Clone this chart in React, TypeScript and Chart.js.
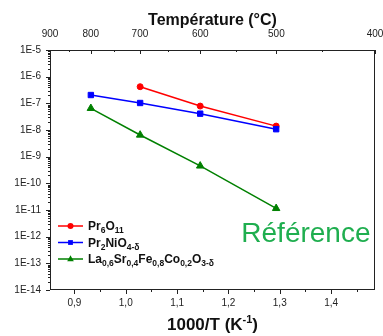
import React, { useEffect, useRef } from 'react';
import { Chart, registerables } from 'chart.js';

Chart.register(...registerables);

// ---- data ----
const INV_T = [0.932, 1.028, 1.145, 1.293]; // 1000/T (K^-1) of the measurements
const PR6O11 = [null, 4.2e-7, 7.9e-8, 1.4e-8];
const PR2NIO4 = [2.05e-7, 1.03e-7, 4.1e-8, 1.07e-8];
const LSFC = [6.5e-8, 6.5e-9, 4.5e-10, 1.15e-11];

const X_TICKS = [0.9, 1.0, 1.1, 1.2, 1.3, 1.4];
const X_MINOR = [0.95, 1.05, 1.15, 1.25, 1.35, 1.45];
const Y_EXPONENTS = [-14, -13, -12, -11, -10, -9, -8, -7, -6, -5];
const TEMP_TICKS = [900, 800, 700, 600, 500, 400];
const TEMP_MINOR = [850, 750, 650, 550, 450];

const NAME_PR6O11: [string, boolean][] = [['Pr', false], ['6', true], ['O', false], ['11', true]];
const NAME_PR2NIO4: [string, boolean][] = [['Pr', false], ['2', true], ['NiO', false], ['4-δ', true]];
const NAME_LSFC: [string, boolean][] = [
  ['La', false], ['0,6', true], ['Sr', false], ['0,4', true], ['Fe', false], ['0,8', true],
  ['Co', false], ['0,2', true], ['O', false], ['3-δ', true],
];
const OVERLAY_TEXT = 'Référence';

const X_TITLE_MAIN = '1000/T (K';
const X_TITLE_SUP = '-1';
const X_TITLE_END = ')';
const TOP_TITLE = 'Température (°C)';

const RED = '#ff0000';
const BLUE = '#0000ff';
const GREEN = '#008000';
const FONT = "'Liberation Sans', Arial, Helvetica, sans-serif";

const tempToX = (t: number) => 1000 / (t + 273.15);
const XMIN = tempToX(900);
const XMAX = tempToX(400);

const toPoints = (ys: (number | null)[]) =>
  INV_T.map((x, i) => (ys[i] == null ? null : { x, y: ys[i] as number })).filter(Boolean);

function drawMarker(ctx: CanvasRenderingContext2D, kind: string, x: number, y: number, r: number, color: string) {
  ctx.fillStyle = color;
  ctx.beginPath();
  if (kind === 'circle') {
    ctx.arc(x, y, r, 0, Math.PI * 2);
  } else if (kind === 'rect') {
    ctx.rect(x - r, y - r, 2 * r, 2 * r);
  } else {
    ctx.moveTo(x, y - r * 1.1);
    ctx.lineTo(x + r, y + r * 0.7);
    ctx.lineTo(x - r, y + r * 0.7);
    ctx.closePath();
  }
  ctx.fill();
}

function drawRich(ctx: CanvasRenderingContext2D, parts: [string, boolean][], x: number, y: number) {
  let cx = x;
  for (const [t, sub] of parts) {
    ctx.font = sub ? `bold 8.5px ${FONT}` : `bold 12px ${FONT}`;
    ctx.fillText(t, cx, sub ? y + 3 : y);
    cx += ctx.measureText(t).width;
  }
}

const decorPlugin = {
  id: 'decor',
  afterDraw(chart: any) {
    const ctx: CanvasRenderingContext2D = chart.ctx;
    const { left, right, top, bottom } = chart.chartArea;
    const xs = chart.scales.x;
    const ys = chart.scales.y;
    const x2 = chart.scales.x2;
    ctx.save();
    ctx.strokeStyle = '#222';
    ctx.lineWidth = 1;
    // frame
    ctx.strokeRect(Math.round(left) + 0.5, Math.round(top) + 0.5, Math.round(right - left) - 1, Math.round(bottom - top) - 1);
    const vtick = (px: number, y0: number, y1: number) => {
      const p = Math.round(px) + 0.5;
      ctx.beginPath(); ctx.moveTo(p, y0); ctx.lineTo(p, y1); ctx.stroke();
    };
    const htick = (py: number, x0: number, x1: number) => {
      const p = Math.round(py) + 0.5;
      ctx.beginPath(); ctx.moveTo(x0, p); ctx.lineTo(x1, p); ctx.stroke();
    };
    // bottom ticks (outward)
    X_TICKS.forEach(v => vtick(xs.getPixelForValue(v), bottom, bottom + 4));
    X_MINOR.forEach(v => { if (v < XMAX) vtick(xs.getPixelForValue(v), bottom, bottom + 2); });
    // top ticks (inward)
    TEMP_TICKS.forEach(t => vtick(x2.getPixelForValue(tempToX(t)), top, top + 4));
    TEMP_MINOR.forEach(t => vtick(x2.getPixelForValue(tempToX(t)), top, top + 2));
    // left ticks (outward)
    Y_EXPONENTS.forEach(e => htick(ys.getPixelForValue(Math.pow(10, e)), left - 4, left));
    Y_EXPONENTS.slice(0, -1).forEach(e => {
      for (let m = 2; m <= 9; m++) htick(ys.getPixelForValue(m * Math.pow(10, e)), left - 2, left);
    });

    // legend
    const items: [[string, boolean][], string, string, number][] = [
      [NAME_PR6O11, RED, 'circle', 3],
      [NAME_PR2NIO4, BLUE, 'rect', 2.4],
      [NAME_LSFC, GREEN, 'triangle', 3.3],
    ];
    items.forEach(([parts, color, kind, r], i) => {
      const y = bottom - 64 + i * 16.5;
      ctx.strokeStyle = color;
      ctx.lineWidth = 1.5;
      ctx.beginPath(); ctx.moveTo(left + 8, y); ctx.lineTo(left + 33, y); ctx.stroke();
      drawMarker(ctx, kind, left + 20.5, y, r, color);
      ctx.fillStyle = '#111';
      ctx.textBaseline = 'alphabetic';
      ctx.textAlign = 'left';
      drawRich(ctx, parts, left + 38, y + 4);
    });

    // overlay text
    ctx.fillStyle = '#1fae4f';
    ctx.font = `28px ${FONT}`;
    ctx.textAlign = 'right';
    ctx.textBaseline = 'alphabetic';
    ctx.fillText(OVERLAY_TEXT, right - 4.5, bottom - 48);

    // bottom axis title with superscript
    ctx.fillStyle = '#111';
    ctx.textAlign = 'left';
    const mainFont = `bold 17px ${FONT}`;
    const supFont = `bold 11px ${FONT}`;
    ctx.font = mainFont;
    const w1 = ctx.measureText(X_TITLE_MAIN).width;
    const w3 = ctx.measureText(X_TITLE_END).width;
    ctx.font = supFont;
    const w2 = ctx.measureText(X_TITLE_SUP).width;
    const total = w1 + w2 + w3;
    let cx = (left + right) / 2 - total / 2;
    const by = bottom + 40;
    ctx.font = mainFont; ctx.fillText(X_TITLE_MAIN, cx, by); cx += w1;
    ctx.font = supFont; ctx.fillText(X_TITLE_SUP, cx, by - 7); cx += w2;
    ctx.font = mainFont; ctx.fillText(X_TITLE_END, cx, by);
    ctx.restore();
  },
};

export default function App() {
  const ref = useRef<HTMLCanvasElement>(null);
  useEffect(() => {
    if (!ref.current) return;
    Chart.defaults.font.family = FONT;
    const common = {
      borderWidth: 1.5,
      pointBorderWidth: 1,
      fill: false,
      tension: 0,
    };
    const chart = new Chart(ref.current, {
      type: 'line',
      data: {
        datasets: [
          { ...common, label: 'Pr6O11', data: toPoints(PR6O11) as any, borderColor: RED, backgroundColor: RED, pointStyle: 'circle', pointRadius: 3, order: 2 },
          { ...common, label: 'Pr2NiO4-δ', data: toPoints(PR2NIO4) as any, borderColor: BLUE, backgroundColor: BLUE, pointStyle: 'rect', pointRadius: 3.8, order: 1 },
          { ...common, label: 'La0,6Sr0,4Fe0,8Co0,2O3-δ', data: toPoints(LSFC) as any, borderColor: GREEN, backgroundColor: GREEN, pointStyle: 'triangle', pointRadius: 4.3, order: 0 },
        ],
      },
      options: {
        animation: false,
        responsive: false,
        layout: { padding: { left: 0, right: 8, top: 0, bottom: 0 } },
        plugins: { legend: { display: false }, tooltip: { enabled: false } },
        scales: {
          x: {
            type: 'linear', position: 'bottom', min: XMIN, max: XMAX,
            grid: { display: false, drawTicks: false }, border: { display: false },
            afterBuildTicks: (s: any) => { s.ticks = X_TICKS.map(v => ({ value: v })); },
            afterFit: (s: any) => { s.height = 46; s.paddingLeft = 0; s.paddingRight = 0; },
            ticks: {
              autoSkip: false, maxRotation: 0, padding: 7, color: '#222', font: { size: 10 },
              callback: (v: any) => Number(v).toFixed(1).replace('.', ','),
            },
          },
          x2: {
            type: 'linear', position: 'top', min: XMIN, max: XMAX,
            grid: { display: false, drawTicks: false }, border: { display: false },
            afterBuildTicks: (s: any) => { s.ticks = TEMP_TICKS.map(t => ({ value: tempToX(t) })); },
            afterFit: (s: any) => { s.height = 50; s.paddingLeft = 0; s.paddingRight = 0; },
            ticks: {
              autoSkip: false, maxRotation: 0, padding: 10, color: '#222', font: { size: 10 },
              callback: (_v: any, i: number) => String(TEMP_TICKS[i]),
            },
            title: {
              display: true, text: TOP_TITLE, color: '#111',
              font: { size: 16, weight: 'bold' }, padding: { top: 11, bottom: 0 },
            },
          },
          y: {
            type: 'logarithmic', position: 'left', min: 1e-14, max: 1e-5,
            grid: { display: false, drawTicks: false }, border: { display: false },
            afterBuildTicks: (s: any) => { s.ticks = Y_EXPONENTS.map(e => ({ value: Math.pow(10, e) })); },
            afterFit: (s: any) => { s.width = 50; s.paddingTop = 0; s.paddingBottom = 0; },
            ticks: {
              autoSkip: false, padding: 9, color: '#222', font: { size: 10 },
              callback: (_v: any, i: number) => '1E' + Y_EXPONENTS[i],
            },
          },
        },
      } as any,
      plugins: [decorPlugin],
    });
    return () => chart.destroy();
  }, []);
  return (
    <div style={{ position: 'fixed', left: 0, top: 0, width: 383, height: 336, background: '#fff' }}>
      <canvas ref={ref} width={383} height={336} style={{ display: 'block', width: 383, height: 336 }} />
    </div>
  );
}
